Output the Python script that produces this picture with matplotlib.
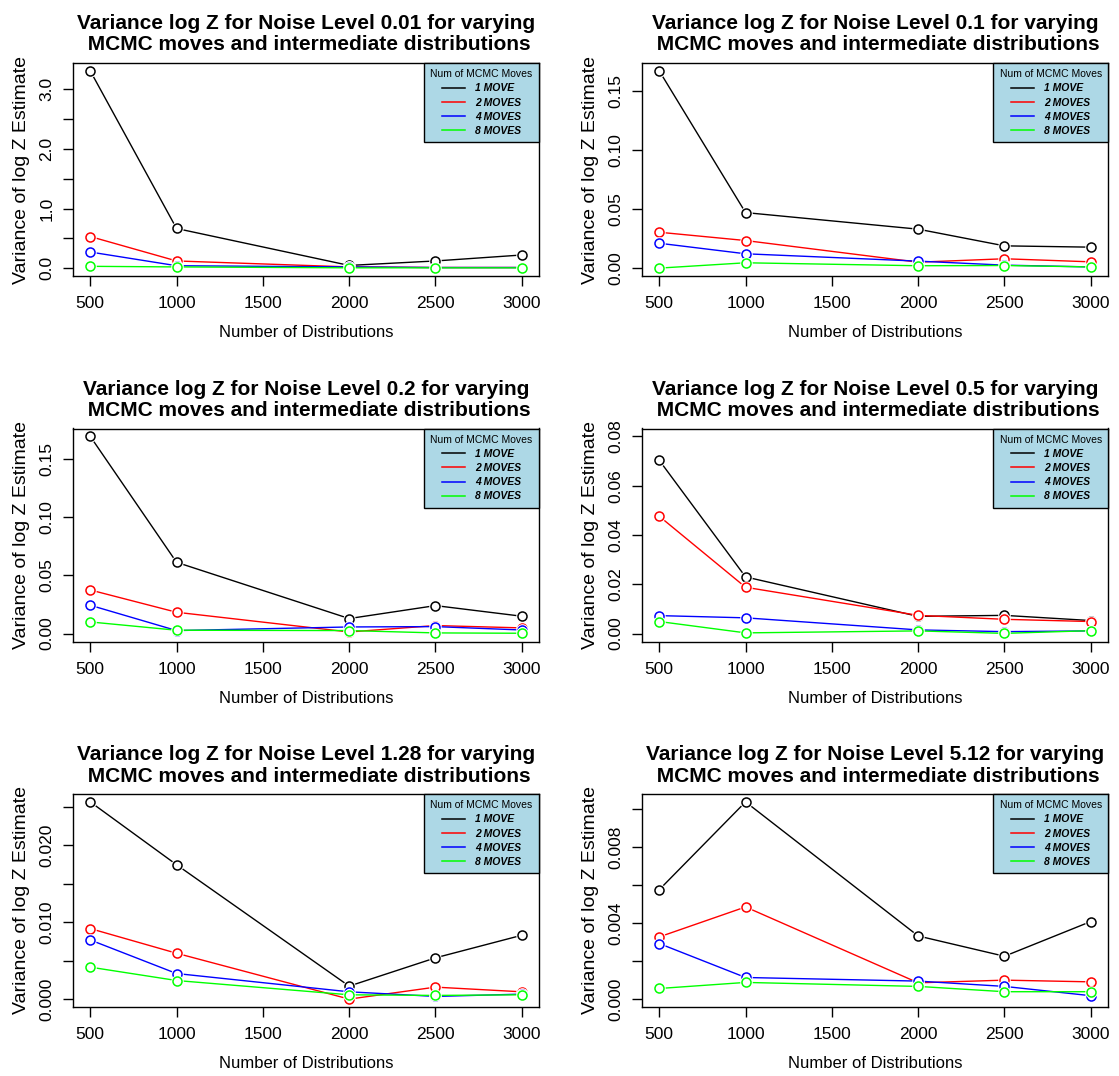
import numpy as np
import matplotlib.pyplot as plt

plt.rcParams['font.family'] = ['Liberation Sans', 'DejaVu Sans']

# number of intermediate distributions
n_dists = [500, 1000, 2000, 2500, 3000]
noise_levels = ['0.01', '0.1', '0.2', '0.5', '1.28', '5.12']
move_labels = ['1 MOVE', '2 MOVES', '4 MOVES', '8 MOVES']
move_colors = ['black', 'red', 'blue', '#00FF00']

# variance of log Z, one list per number of MCMC moves (1, 2, 4, 8)
var_001 = [[3.31, 0.665, 0.045, 0.12, 0.22],
           [0.53, 0.12, 0.02, 0.01, 0.01],
           [0.27, 0.04, 0.02, 0.01, 0.01],
           [0.03, 0.02, 0.005, 0.005, 0.005]]
var_01 = [[0.1666, 0.0469, 0.0329, 0.0188, 0.0177],
          [0.0303, 0.0233, 0.0050, 0.0079, 0.0053],
          [0.0210, 0.0121, 0.0059, 0.0025, 0.0010],
          [0.0000, 0.0045, 0.0020, 0.0022, 0.0010]]
var_02 = [[0.1690, 0.0611, 0.0129, 0.0240, 0.0149],
          [0.0374, 0.0183, 0.0014, 0.0069, 0.0049],
          [0.0243, 0.0026, 0.0057, 0.0060, 0.0031],
          [0.0100, 0.0029, 0.0026, 0.0006, 0.0003]]
var_05 = [[0.0703, 0.0230, 0.0070, 0.0074, 0.0053],
          [0.0476, 0.0188, 0.0074, 0.0058, 0.0049],
          [0.0073, 0.0064, 0.0015, 0.0008, 0.0011],
          [0.0049, 0.0003, 0.0011, 0.0001, 0.0012]]
var_128 = [[0.02567, 0.01749, 0.00169, 0.00537, 0.00831],
           [0.00918, 0.00597, 0.00000, 0.00156, 0.00095],
           [0.00770, 0.00333, 0.00095, 0.00035, 0.00065],
           [0.00416, 0.00242, 0.00056, 0.00048, 0.00056]]
var_512 = [[0.00577, 0.01040, 0.00333, 0.00226, 0.00409],
           [0.00328, 0.00486, 0.00086, 0.00100, 0.00091],
           [0.00293, 0.00114, 0.00095, 0.00067, 0.00018],
           [0.00056, 0.00088, 0.00067, 0.00039, 0.00039]]
all_vars = [var_001, var_01, var_02, var_05, var_128, var_512]

# y axis setup per panel: (ylim top or None, tick step, label step, format)
y_axis = [(None, 0.5, 1.0, '%.1f'),
          (None, 0.05, 0.05, '%.2f'),
          (None, 0.05, 0.05, '%.2f'),
          (0.08, 0.02, 0.02, '%.2f'),
          (None, 0.005, 0.010, '%.3f'),
          (None, 0.002, 0.004, '%.3f')]

W, H = 1119, 1076
fig = plt.figure(figsize=(W / 100, H / 100), dpi=100)

lefts = [73, 642]
tops = [63, 428.5, 794]
bw, bh = 466, 213

for i, (lvl, data) in enumerate(zip(noise_levels, all_vars)):
    r, c = divmod(i, 2)
    ax = fig.add_axes([lefts[c] / W, 1 - (tops[r] + bh) / H, bw / W, bh / H])

    for vals, col, lab in zip(data, move_colors, move_labels):
        ax.plot(n_dists, vals, '-', color=col, lw=1.0, label=lab)
        ax.plot(n_dists, vals, 'o', ms=9, mfc='white', mec='none')
        ax.plot(n_dists, vals, 'o', ms=6.5, mfc='none', mec=col, mew=1.1)

    ytop, step, lstep, fmt = y_axis[i]
    if ytop is None:
        ytop = max(max(v) for v in data)
    pad = 0.04 * ytop
    ax.set_ylim(-pad, ytop + pad)
    ax.set_xlim(400, 3100)

    ticks = np.arange(0, ytop + pad + 1e-12, step)
    labels = [fmt % t if abs(t / lstep - round(t / lstep)) < 1e-6 else '' for t in ticks]
    ax.set_yticks(ticks)
    ax.set_yticklabels(labels)
    ax.set_xticks([500, 1000, 1500, 2000, 2500, 3000])

    ax.tick_params(axis='both', labelsize=12.5, length=7.5, width=1, direction='out')
    ax.tick_params(axis='y', labelrotation=90, pad=6)
    ax.tick_params(axis='x', pad=7)
    for t in ax.get_yticklabels():
        t.set_va('center')

    ax.set_xlabel('Number of Distributions', fontsize=12, labelpad=10)
    ax.set_ylabel('Variance of log Z Estimate', fontsize=14, labelpad=7)
    ax.set_title('Variance log Z for Noise Level %s for varying\n MCMC moves and intermediate distributions' % lvl,
                 fontsize=15, fontweight='bold', pad=9, linespacing=1.15)
    for s in ax.spines.values():
        s.set_linewidth(1)

    handles = [plt.Line2D([], [], color=col, lw=1.1) for col in move_colors]
    leg = ax.legend(handles, move_labels, loc='upper right', borderaxespad=0,
                    title='Num of MCMC Moves', title_fontsize=7.5,
                    prop={'weight': 'bold', 'style': 'italic', 'size': 7.5},
                    fancybox=False, framealpha=1, facecolor='#ADD8E6',
                    edgecolor='black', handlelength=2.2, labelspacing=0.4,
                    borderpad=0.6, handletextpad=1.0)
    leg.get_frame().set_linewidth(1)
    leg._legend_box.align = 'center'

fig.savefig('out.png', dpi=100)
